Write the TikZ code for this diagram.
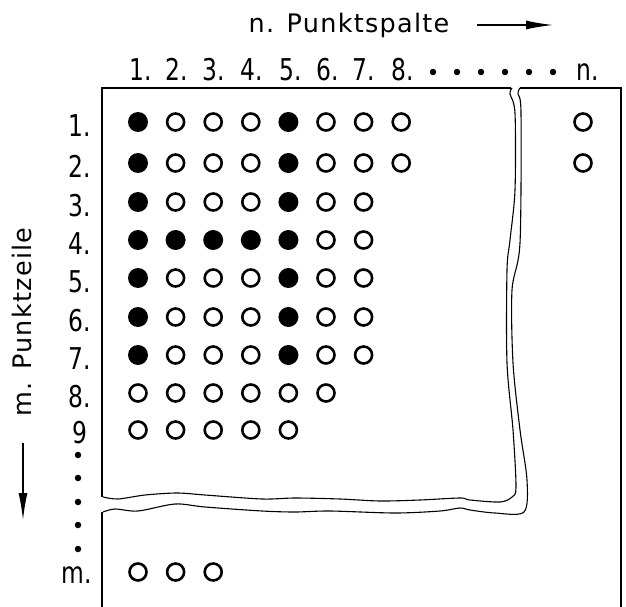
\documentclass[tikz,border=0pt]{standalone}
\usepackage{fontspec}
\setmainfont{DejaVu Sans}
\newfontfamily\labfont[FakeStretch=0.78]{DejaVu Sans}
\usetikzlibrary{arrows.meta}
\begin{document}
\begin{tikzpicture}[x=1pt,y=-1pt,
  frameline/.style={line width=2.6pt},
  breakline/.style={line width=1.1pt},
  full/.style={circle,fill=black,minimum size=20pt,inner sep=0pt},
  empty/.style={circle,draw=black,line width=2.6pt,minimum size=17pt,inner sep=0pt},
  lab/.style={font=\labfont\fontsize{30}{32}\selectfont,inner sep=0pt},
  ttl/.style={font=\fontsize{25.5}{27}\selectfont\addfontfeature{LetterSpace=5},inner sep=0pt},
  smalldot/.style={circle,fill=black,minimum size=6.5pt,inner sep=0pt},
  arr/.style={line width=1.4pt,-{Latex[length=27pt,width=9pt]}}]
\useasboundingbox (0,0) rectangle (626,607);

% title and column arrow
\node[ttl,anchor=base] (title) at (349,33) {n. Punktspalte};
\coordinate (ca) at (477,25);
\coordinate (cb) at (553,25);
\draw[arr] (ca) -- (cb);

% left label and row arrow
\node[ttl,rotate=90,anchor=center] (side) at (22,322) {m. Punktzeile};
\coordinate (ra) at (23,443);
\coordinate (rb) at (23,520);
\draw[arr] (ra) -- (rb);

% column labels
\foreach \t/\x in {1./141,2./177,3./214,4./252,5./291,6./328,7./364,8./403,n./588}
  \node[lab,anchor=base] (cl\t) at (\x,81) {\t};
\foreach \x in {433,457,481,505,529,553}
  \node[smalldot] (hd\x) at (\x,72) {};

% row labels
\foreach \t/\y in {1./122,2./163,3./202,4./240,5./278,6./317,7./355,8./393}
  \node[lab,anchor=base east] (rl\t) at (91,\y+14) {\t};
\node[lab,anchor=base east] (rl9) at (88,443) {9};
\node[lab,anchor=base east] (rlm) at (92,583) {m.};
\foreach \y in {455,478,502,525,549}
  \node[smalldot] (vd\y) at (78,\y) {};

% dot matrix
\foreach \r/\y/\n in {1/122/8,2/163/8,3/202/7,4/240/7,5/278/7,6/317/7,7/355/7,8/393/6,9/430/5} {
  \foreach \c in {1,...,\n} {
    \pgfmathsetmacro\xx{138+37.6*(\c-1)}
    \pgfmathtruncatemacro\isf{(\r<8)&&((\c==1)||(\c==5)||((\r==4)&&(\c<6)))}
    \ifnum\isf=1
      \node[full] (d\r-\c) at (\xx,\y) {};
    \else
      \node[empty] (d\r-\c) at (\xx,\y) {};
    \fi
  }
}
\node[empty] (d1-n) at (583,122) {};
\node[empty] (d2-n) at (583,163) {};
\foreach \c in {1,2,3} {
  \pgfmathsetmacro\xx{138+37.6*(\c-1)}
  \node[empty] (dm-\c) at (\xx,572) {};
}

% frame
\draw[frameline] (102,497) -- (102,88) -- (511,88);
\draw[frameline] (520,88) -- (621,88) -- (621,607);
\draw[frameline] (102,512) -- (102,607);

% break lines
\draw[breakline] plot[smooth,tension=0.5] coordinates {
  (512,88) (510,94) (515,113) (515,190) (510,240) (507,270) (507,363)
  (513,430) (516,487) (512,497) (500,502) (470,500) (460,498) (420,500)
  (380,501) (340,499) (295,498) (262,499) (205,495) (177,493) (145,495)
  (118,499) (103,497)};
\draw[breakline] plot[smooth,tension=0.5] coordinates {
  (520,88) (518,94) (521,113) (520,243) (512,290) (513,363) (520,430)
  (527,480) (524,512) (495,513) (470,510) (460,508) (440,511) (395,513)
  (330,511) (295,512) (262,511) (205,507) (175,504) (138,511) (115,509)
  (103,512)};
\end{tikzpicture}
\end{document}
